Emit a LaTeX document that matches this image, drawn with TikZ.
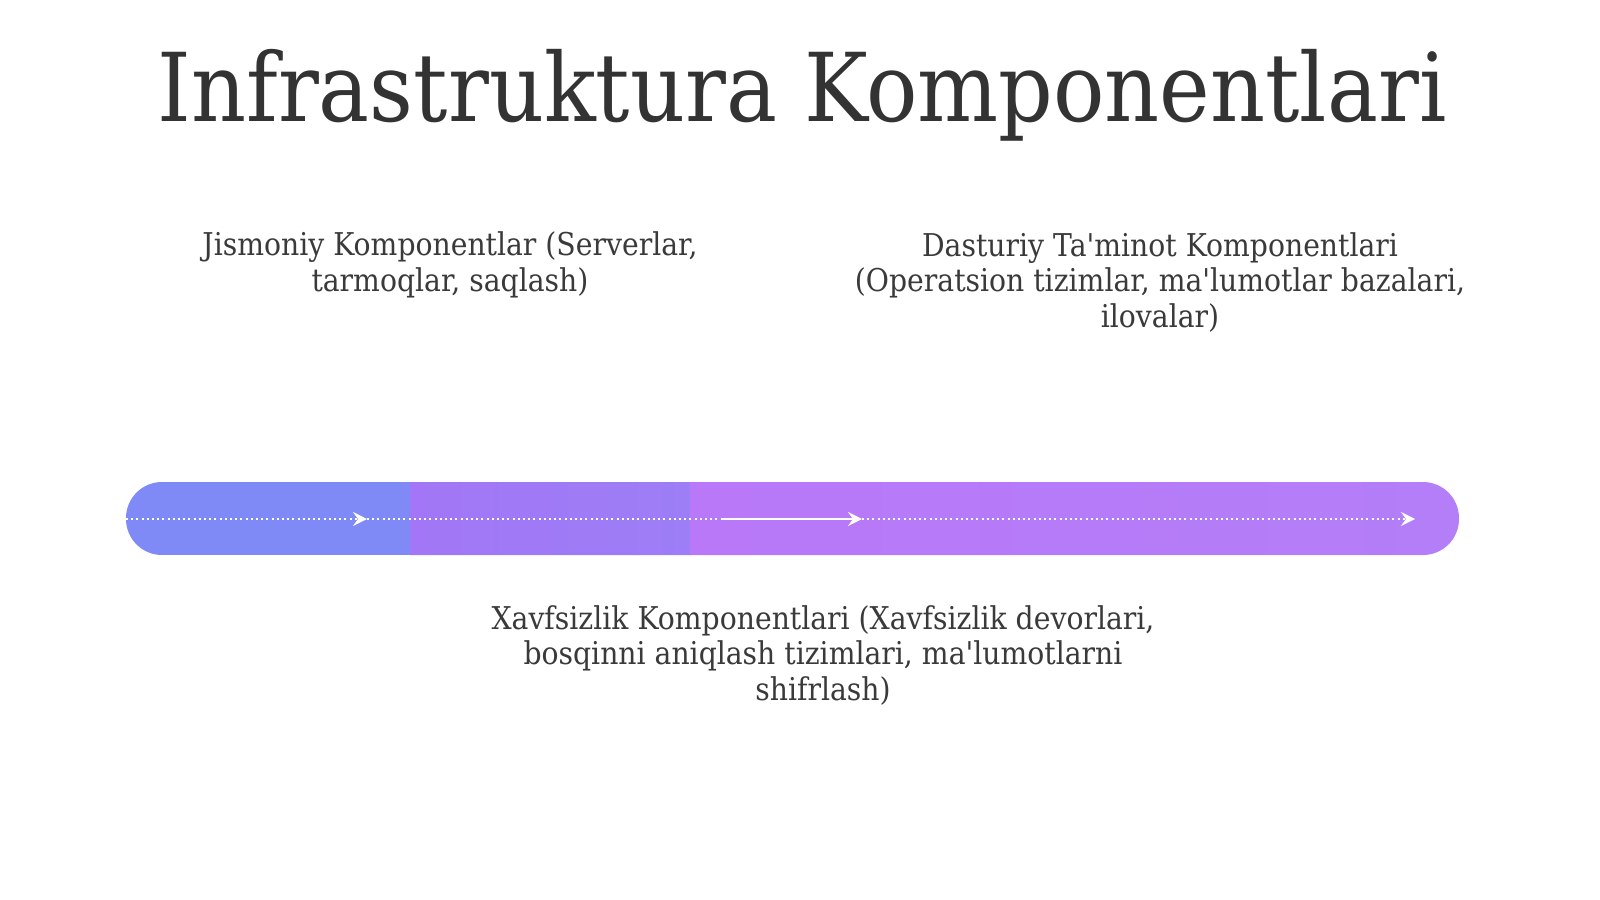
\documentclass[tikz,border=0pt]{standalone}
\usepackage{fontspec}
\setmainfont{DejaVu Serif}[FakeStretch=0.9,Ligatures=TeXOff]
\usetikzlibrary{arrows.meta,positioning}

\definecolor{inktitle}{HTML}{333333}
\definecolor{inkbody}{HTML}{3A3A3A}
\definecolor{barA}{HTML}{7F8AF6}
\definecolor{barB}{HTML}{A276F6}
\definecolor{barBb}{HTML}{9D7EF6}
\definecolor{barC}{HTML}{B878F8}
\definecolor{barCc}{HTML}{B47EF8}

\tikzset{
  heading/.style={font=\fontsize{47.5}{54}\selectfont, text=inktitle, inner sep=0pt, anchor=base},
  label/.style={font=\fontsize{15.7}{17.75}\selectfont, text=inkbody, align=center, inner sep=0pt, anchor=base},
  flow/.style={white, line width=1pt, dash pattern=on 1pt off 1.6pt},
  flowsolid/.style={white, line width=1.2pt},
  tip/.style={-{Stealth[length=7pt,width=7pt,inset=2.5pt]}}
}

\begin{document}
\begin{tikzpicture}[x=0.5pt,y=-0.5pt,node distance=357pt]
    \useasboundingbox[fill=white] (0,0) rectangle (1600,899);
    \node[heading] (title) at (802,121) {Infrastruktura Komponentlari};
    \node[label] (phys) at (450,291) {Jismoniy Komponentlar (Serverlar,\\tarmoqlar, saqlash)};
    \node[label] (soft) at (1160,327) {Dasturiy Ta'minot Komponentlari\\(Operatsion tizimlar, ma'lumotlar bazalari,\\ilovalar)};
    \node[label] (sec) at (823,700) {Xavfsizlik Komponentlari (Xavfsizlik devorlari,\\bosqinni aniqlash tizimlari, ma'lumotlarni\\shifrlash)};
    % bar
    \begin{scope}
      \clip[rounded corners=18pt] (126,482) rectangle (1459,555);
      \fill[barA] (126,482) rectangle (411,555);
      \shade[left color=barB, right color=barBb] (410,482) rectangle (691,555);
      \shade[left color=barC, right color=barCc] (690,482) rectangle (1459,555);
    \end{scope}
    \coordinate (p0) at (126,519);
    \coordinate (p1) at (367,519);
    \coordinate (p2) at (722,519);
    \coordinate (p3) at (862,519);
    \coordinate (p4) at (1415,519);
    \draw[flow, tip] (p0) -- (p1);
    \draw[flow] (p1) -- (p2);
    \draw[flowsolid, tip] (p2) -- (p3);
    \draw[flow, tip] (p3) -- (p4);
\end{tikzpicture}
\end{document}
